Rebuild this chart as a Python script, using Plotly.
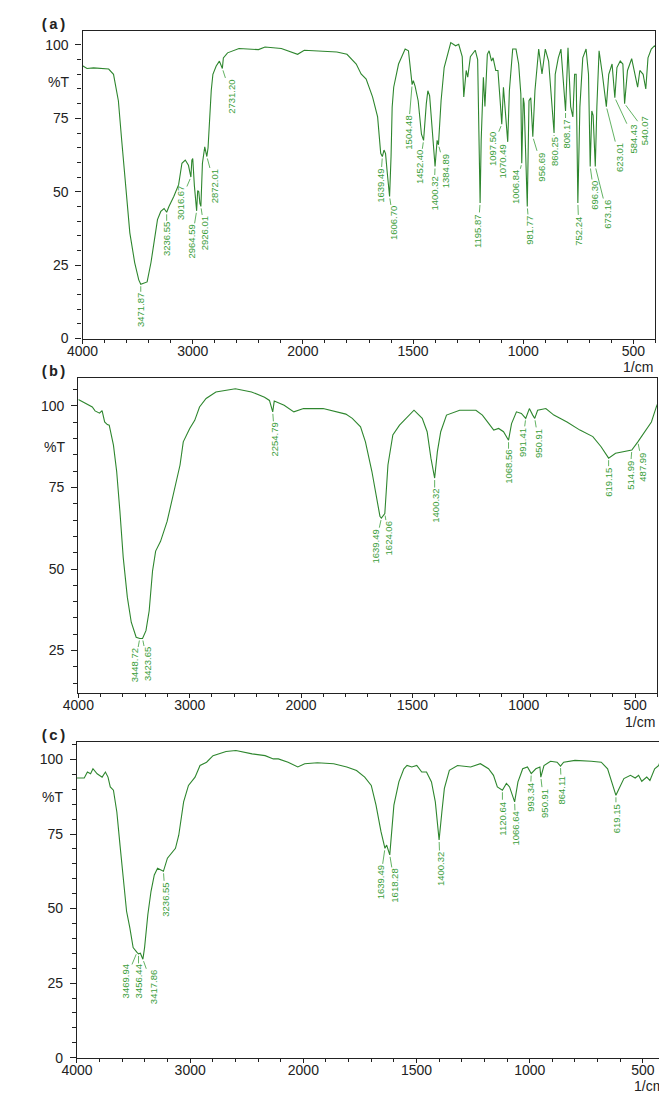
import numpy as np
import plotly.graph_objects as go

# ---------------- DATA ----------------
# Panel (a) spectrum: wavenumber (1/cm) and %T
wn_a = [4000, 3960, 3900, 3850, 3800, 3763, 3719, 3675, 3645, 3601, 3571, 3527, 3490, 3471.87, 3440, 3414,
        3379, 3350, 3320, 3290, 3260, 3236.55, 3216, 3172, 3128, 3098, 3068, 3039, 3016.67, 3008, 3000, 2985,
        2964.59, 2955, 2945, 2935, 2926.01, 2912, 2891, 2872.01, 2861, 2832, 2817, 2787, 2758, 2731.20, 2722,
        2684, 2580, 2403, 2344, 2196, 2078, 2048, 1994, 1935, 1846, 1800, 1758, 1736, 1713, 1684, 1661, 1647,
        1639.49, 1632, 1625, 1617, 1606.70, 1600, 1595, 1588, 1566, 1536, 1521, 1504.48, 1499, 1491, 1477,
        1462, 1452.40, 1440, 1433, 1425, 1410, 1400.32, 1391, 1384.89, 1373, 1359, 1329, 1307, 1293, 1277,
        1270, 1259, 1252, 1240, 1218, 1207, 1195.87, 1191, 1181, 1174, 1163, 1155, 1144, 1137, 1125, 1115,
        1104, 1097.50, 1090, 1078, 1070.49, 1063, 1048, 1033, 1021, 1011, 1006.84, 1000, 996, 981.77, 974,
        966, 956.69, 947, 930, 915, 900, 885, 870, 860.25, 855, 841, 829, 818, 808.17, 797, 785, 775, 767,
        760, 752.24, 743, 730, 715, 704, 696.30, 689, 683, 673.16, 666, 656, 641, 623.01, 612, 597, 584.43,
        575, 560, 548, 540.07, 527, 508, 493, 481, 471, 456, 444, 434, 419, 405, 400]
t_a = [92.9, 92.0, 92.2, 92.0, 92.0, 91.8, 90.0, 81.0, 67.6, 49.5, 36.0, 25.9, 20.0, 18.5, 18.8, 19.3,
       25.9, 33.8, 40.5, 43.3, 44.3, 43.0, 45.0, 48.4, 52.4, 59.7, 60.8, 59.0, 55.0, 60.8, 61.3, 52.0,
       43.5, 50.4, 50.0, 46.0, 45.0, 59.7, 65.3, 62.0, 65.0, 84.5, 90.0, 92.8, 94.5, 92.0, 95.6,
       97.3, 98.8, 98.4, 99.3, 98.8, 97.3, 96.8, 98.2, 97.9, 97.6, 96.8, 93.5, 90.1, 88.4, 82.3, 75.5, 63.1,
       62.0, 64.2, 63.0, 56.3, 48.4, 62.0, 78.8, 85.6, 93.5, 98.6, 98.0, 86.5, 87.8, 86.0, 81.0,
       69.6, 67.5, 80.0, 84.4, 82.7, 67.5, 58.6, 67.5, 66.0, 81.0, 92.3, 100.8, 99.7, 100.2, 96.0,
       82.3, 91.3, 89.0, 96.0, 98.2, 95.0, 46.2, 67.5, 89.0, 79.0, 96.8, 98.0, 94.5, 95.6, 91.3, 91.3,
       80.0, 73.0, 85.6, 72.0, 67.0, 84.4, 98.6, 98.6, 93.5, 83.3, 59.7, 82.0, 80.0, 45.0, 81.0,
       82.0, 68.7, 84.4, 98.6, 90.1, 98.6, 94.5, 80.0, 70.0, 90.0, 95.6, 98.6, 89.0, 77.5, 99.0, 79.0, 75.5, 90.0,
       90.0, 46.2, 79.0, 95.6, 98.6, 90.0, 58.6, 77.5, 76.0, 58.6, 79.0, 98.0, 90.0, 79.0, 90.0, 93.5, 82.0,
       92.3, 94.5, 93.5, 80.0, 91.3, 95.3, 90.0, 85.6, 91.3, 90.0, 85.0, 95.6, 98.6, 99.7, 99.5]
peaks_a = ["3471.87", "3236.55", "3016.67", "2964.59", "2926.01", "2872.01", "2731.20", "1639.49", "1606.70",
           "1504.48", "1452.40", "1400.32", "1384.89", "1195.87", "1097.50", "1070.49", "1006.84", "981.77",
           "956.69", "860.25", "808.17", "752.24", "696.30", "673.16", "623.01", "584.43", "540.07"]

# Panel (b) spectrum
wn_b = [4000, 3960, 3933, 3900, 3875, 3850, 3831, 3810, 3787, 3764, 3740, 3723, 3685, 3656, 3627, 3597,
        3560, 3525, 3481, 3448.72, 3423.65, 3393, 3364, 3334, 3306, 3262, 3203, 3145, 3087, 3058, 3000,
        2955, 2912, 2853, 2765, 2590, 2445, 2328, 2284, 2254.79, 2241, 2152, 2065, 1989, 1901, 1799, 1770,
        1733, 1711, 1682, 1660, 1646, 1639.49, 1624.06, 1610, 1588, 1558, 1529, 1493, 1456, 1434, 1417,
        1400.32, 1388, 1373, 1347, 1288, 1215, 1186, 1157, 1135, 1113, 1091, 1068.56, 1055, 1033, 1011,
        991.41, 975, 960, 950.91, 938, 901, 865, 806, 748, 690, 653, 619.15, 588, 544, 514.99, 487.99,
        456, 427, 405, 400]
t_b = [102.0, 101.2, 100.9, 100.0, 99.7, 98.5, 98.2, 97.8, 98.6, 95.1, 94.3, 94.1, 88.0, 79.9, 67.7, 53.5,
       41.3, 33.7, 29.1, 28.7, 28.7, 31.1, 37.2, 49.4, 55.5, 58.5, 64.6, 72.8, 81.9, 89.0, 93.1,
       95.6, 99.7, 102.3, 104.3, 105.3, 104.3, 102.7, 101.7, 98.2, 101.5, 100.2, 98.2, 99.2, 99.2, 97.5, 96.2,
       93.6, 89.0, 79.9, 70.7, 66.2, 65.6, 67.0, 81.9, 91.1, 94.1, 96.2, 98.7, 96.2, 92.1, 84.0,
       77.9, 86.0, 92.1, 97.2, 98.7, 98.7, 97.2, 94.6, 92.6, 93.1, 92.1, 89.5, 94.6, 98.2, 97.7,
       96.2, 99.2, 97.2, 96.2, 98.7, 99.2, 97.2, 95.1, 92.6, 90.6, 87.5, 84.0, 85.5, 86.0, 86.5, 89.0,
       92.1, 95.1, 99.7, 100.5]
peaks_b = ["3448.72", "3423.65", "2254.79", "1639.49", "1624.06", "1400.32", "1068.56", "991.41",
           "950.91", "619.15", "514.99", "487.99"]

# Panel (c) spectrum
wn_c = [4000, 3936, 3908, 3880, 3859, 3822, 3778, 3749, 3726, 3706, 3678, 3648, 3620, 3590, 3562, 3533,
        3504, 3469.94, 3456.44, 3440, 3417.86, 3403, 3374, 3346, 3317, 3288, 3259, 3236.55, 3201, 3130,
        3101, 3058, 3015, 2957, 2913, 2855, 2798, 2683, 2596, 2453, 2338, 2265, 2221, 2135, 2049, 1994,
        1938, 1866, 1808, 1765, 1729, 1700, 1679, 1657, 1639.49, 1632, 1618.28, 1610, 1600, 1578, 1556,
        1542, 1521, 1499, 1477, 1456, 1434, 1417, 1400.32, 1388, 1377, 1355, 1319, 1261, 1218, 1182, 1160,
        1143, 1120.64, 1103, 1089, 1066.64, 1052, 1031, 1010, 993.34, 973, 955, 950.91, 937, 908, 879,
        864.11, 850, 800, 728, 684, 656, 634, 619.15, 605, 584, 555, 534, 519, 505, 483, 469, 448, 430,
        418, 404, 400]
t_c = [93.8, 93.8, 95.8, 95.2, 96.9, 95.2, 94.1, 95.8, 94.1, 90.8, 89.7, 82.4, 71.3, 60.2, 49.1, 43.5,
       36.9, 35.3, 34.8, 35.0, 33.0, 36.9, 48.0, 55.8, 61.3, 63.5, 63.0, 62.5, 66.9, 70.2,
       74.6, 85.8, 91.3, 94.1, 98.0, 99.1, 101.3, 102.7, 103.0, 101.9, 101.3, 100.2, 100.2, 99.1, 97.5, 98.6,
       98.9, 98.6, 97.5, 96.3, 94.1, 91.3, 84.7, 75.8, 70.2, 71.3, 68.0, 74.6, 84.7, 92.5, 96.9,
       98.0, 97.5, 98.0, 95.8, 95.8, 92.5, 85.8, 73.0, 82.5, 90.3, 96.4, 98.0, 97.5, 98.6, 96.9, 94.7,
       90.8, 89.7, 92.0, 90.8, 85.8, 92.5, 96.9, 97.5, 95.3, 96.9, 97.5, 94.1, 98.0, 99.4, 99.1,
       97.8, 99.1, 99.7, 99.4, 99.1, 96.9, 92.0, 88.0, 90.3, 93.6, 94.7, 93.8, 94.7, 92.7, 94.1, 93.0, 96.9, 98.0,
       100.8, 97.5, 97.8]
peaks_c = ["3469.94", "3456.44", "3417.86", "3236.55", "1639.49", "1618.28", "1400.32", "1120.64",
           "1066.64", "993.34", "950.91", "864.11", "619.15"]

x_tick_labels = ["4000", "3000", "2000", "1500", "1000", "500"]
y_tick_values = [0, 25, 50, 75, 100]
panel_names = ["(a)", "(b)", "(c)"]

# ---------------- LAYOUT / STYLE ----------------
W, H = 667, 1102
LINE = "#2e862e"
LBL = "#3b9e3b"
AX = "#222222"

# label pixel offsets (dx, dy) of text centre relative to the peak
off_a = [(0, 26), (0, 27), (-11, 26), (-5, 31), (4, 27), (8, 30), (9, 28), (-2, 29), (4, 27),
         (-4, 48), (-4, 27), (-1, 27), (7, 26), (-2, 28), (-10, 25), (-5, 20), (-6, 24), (2, 24),
         (9, 30), (0, 19), (0, 23), (1, 28), (4, 29), (12, 48), (13, 51), (19, 41), (20, 27)]
off_b = [(-5, 27), (5, 26), (2, 28), (-6, 28), (4, 25), (0, 28), (0, 27), (-3, 24), (4, 25),
         (0, 24), (-2, 25), (5, 25)]
off_c = [(-12, 29), (0, 28), (10, 28), (2, 28), (-5, 34), (5, 31), (1, 29), (0, 28), (1, 27),
         (-1, 24), (3, 26), (1, 24), (0, 23)]

# panel frames in pixels: left, right, top, bottom ; y range
frames = [
    dict(l=60, r=647, t=23, b=333, yr=[0, 104.8]),
    dict(l=55.7, r=649, t=372.3, b=690, yr=[12.0, 108.7]),
    dict(l=54.3, r=657.3, t=739.3, b=1057.3, yr=[0, 105.9]),
]


def to_u(wn):
    """Shimadzu-style wavenumber axis: 2x expansion below 2000 1/cm."""
    wn = np.asarray(wn, dtype=float)
    return np.where(wn >= 2000, (4000 - wn) / 1000.0, 2 + (2000 - wn) / 500.0)


U_MAX = float(to_u(400))
x_tickvals = [float(to_u(float(v))) for v in x_tick_labels]

fig = go.Figure()
panels = [(wn_a, t_a, peaks_a, off_a), (wn_b, t_b, peaks_b, off_b), (wn_c, t_c, peaks_c, off_c)]

annotations = []
for i, ((wn, tt, peaks, offs), fr) in enumerate(zip(panels, frames)):
    k = "" if i == 0 else str(i + 1)
    xa, ya = "x" + k, "y" + k
    fig.add_trace(go.Scatter(x=to_u(wn), y=tt, mode="lines",
                             line=dict(color=LINE, width=1.1),
                             xaxis=xa, yaxis=ya, showlegend=False, hoverinfo="skip"))
    xd = [fr["l"] / W, fr["r"] / W]
    yd = [1 - fr["b"] / H, 1 - fr["t"] / H]
    common = dict(showline=True, linecolor=AX, linewidth=1.3, mirror=True, showgrid=False,
                  zeroline=False, ticks="outside", tickcolor=AX, tickwidth=1,
                  tickfont=dict(family="Liberation Sans, Arial", size=14, color=AX))
    fig.update_layout(**{
        ("xaxis" + k): dict(domain=xd, range=[0, U_MAX], anchor=ya, tickmode="array",
                            tickvals=x_tickvals, ticktext=x_tick_labels, ticklen=4,
                            ticklabelstandoff=-5,
                            minor=dict(tickmode="linear", tick0=0, dtick=0.2, ticks="outside",
                                       ticklen=3, tickcolor=AX), **common),
        ("yaxis" + k): dict(domain=yd, range=fr["yr"], anchor=xa, tickmode="array",
                            tickvals=y_tick_values, ticklen=6, ticklabelstandoff=4,
                            minor=dict(tickmode="linear", tick0=0, dtick=5, ticks="outside",
                                       ticklen=4, tickcolor=AX), **common),
    })
    wn_arr = np.asarray(wn, float)
    t_arr = np.asarray(tt, float)
    for lab, (dx, dy) in zip(peaks, offs):
        w = float(lab)
        yv = float(np.interp(w, wn_arr[::-1], t_arr[::-1]))
        annotations.append(dict(x=float(to_u(w)), y=yv, xref=xa, yref=ya, text=lab,
                                textangle=-90, showarrow=True, arrowhead=0, arrowwidth=0.8,
                                arrowcolor=LBL, standoff=2, ax=dx, ay=dy,
                                font=dict(family="Liberation Sans, Arial", size=9.5, color=LBL)))
    # %T label
    annotations.append(dict(x=(fr["l"] - 12) / W, y=87.5, xref="paper", yref=ya, text="%T",
                            showarrow=False, xanchor="right", yanchor="middle",
                            font=dict(family="Liberation Sans, Arial", size=14, color=AX)))
    # 1/cm label
    annotations.append(dict(x=fr["r"] / W, y=1 - (fr["b"] + 29) / H, xref="paper", yref="paper",
                            text="1/cm", showarrow=False, xanchor="right", yanchor="middle",
                            font=dict(family="Liberation Sans, Arial", size=14, color=AX)))
    # panel tag
    annotations.append(dict(x=14 / W, y=1 - (fr["t"] - 5) / H, xref="paper", yref="paper",
                            text="<b>" + panel_names[i] + "</b>", showarrow=False,
                            xanchor="left", yanchor="middle",
                            font=dict(family="Liberation Mono, Courier New", size=15, color=AX)))

fig.update_layout(width=W, height=H, margin=dict(l=0, r=0, t=0, b=0),
                  paper_bgcolor="white", plot_bgcolor="white", annotations=annotations)

fig.write_html("out.html")
